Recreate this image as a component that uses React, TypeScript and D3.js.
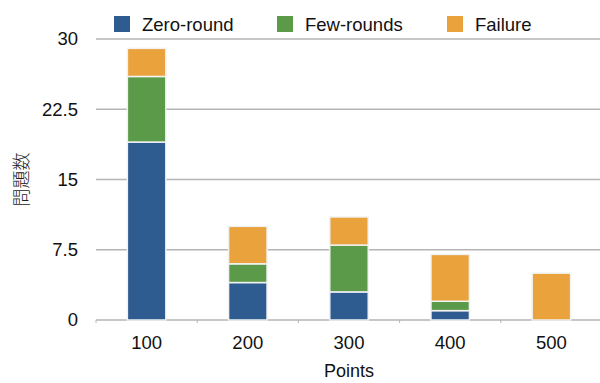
import React from "react";
import * as d3 from "d3";

// Problem counts per point value, stacked by outcome
const categories = ["100", "200", "300", "400", "500"];
const zeroRound = [19, 4, 3, 1, 0];
const fewRounds = [7, 2, 5, 1, 0];
const failure = [3, 4, 3, 5, 5];
const yTicks = [0, 7.5, 15, 22.5, 30];

const seriesNames = ["Zero-round", "Few-rounds", "Failure"];
const seriesColors = ["#2E5B90", "#5B9A48", "#EAA23D"];

const W = 600;
const H = 383;
const margin = { left: 96, right: -2, top: 39, bottom: 63 };
const FONT = "'Liberation Sans', Arial, Helvetica, sans-serif";

export default function App() {
  const rows = categories.map((c, i) => ({
    cat: c,
    "Zero-round": zeroRound[i],
    "Few-rounds": fewRounds[i],
    Failure: failure[i],
  }));
  const stacked = d3.stack<any>().keys(seriesNames)(rows);

  const x = d3
    .scaleBand<string>()
    .domain(categories)
    .range([margin.left, W - margin.right])
    .paddingInner(0.62)
    .paddingOuter(0.31);
  const y = d3
    .scaleLinear()
    .domain([0, 30])
    .range([H - margin.bottom, margin.top]);

  const step = x.step();
  const x0 = margin.left;
  const boundaries = d3.range(categories.length + 1).map((i) => x0 + i * step);

  const legendX = [114, 277, 447];

  return (
    <svg
      width={W}
      height={H}
      style={{ position: "absolute", left: 0, top: 0, background: "#fff" }}
      fontFamily={FONT}
    >
      {/* gridlines */}
      {yTicks.map((t) => (
        <line
          key={t}
          x1={margin.left}
          x2={W}
          y1={y(t)}
          y2={y(t)}
          stroke="#b4b4b4"
          strokeWidth={1.5}
        />
      ))}
      {/* category separator ticks */}
      {boundaries.map((b, i) => (
        <line
          key={i}
          x1={b}
          x2={b}
          y1={y(0)}
          y2={y(0) + 3}
          stroke="#b4b4b4"
          strokeWidth={1}
        />
      ))}
      {/* y tick labels */}
      {yTicks.map((t) => (
        <text
          key={t}
          x={78}
          y={y(t)}
          dy="0.35em"
          textAnchor="end"
          fontSize={18.5}
          fill="#111"
        >
          {t}
        </text>
      ))}
      {/* stacked bars */}
      {stacked.map((s, si) => (
        <g key={s.key}>
          {s.map((d, i) =>
            d[1] - d[0] > 0 ? (
              <rect
                key={i}
                x={x(categories[i])}
                y={y(d[1])}
                width={x.bandwidth()}
                height={y(d[0]) - y(d[1])}
                fill={seriesColors[si]}
                stroke="#f2f2f2"
                strokeWidth={1.5}
              />
            ) : null
          )}
        </g>
      ))}
      {/* x tick labels */}
      {categories.map((c) => (
        <text
          key={c}
          x={(x(c) as number) + x.bandwidth() / 2}
          y={349}
          textAnchor="middle"
          fontSize={18.5}
          fill="#111"
        >
          {c}
        </text>
      ))}
      {/* axis titles */}
      <text x={349} y={377} textAnchor="middle" fontSize={18} fill="#111">
        Points
      </text>
      <text
        transform={`translate(28, ${(margin.top + H - margin.bottom) / 2}) rotate(-90)`}
        textAnchor="middle"
        fontSize={18}
        fill="#222"
        fontFamily="'Noto Sans CJK JP', sans-serif"
        fontWeight={300}
      >
        問題数
      </text>
      {/* legend */}
      {seriesNames.map((n, i) => (
        <g key={n}>
          <rect
            x={legendX[i]}
            y={16}
            width={16}
            height={16}
            fill={seriesColors[i]}
          />
          <text x={legendX[i] + 28} y={31} fontSize={18.5} fill="#111">
            {n}
          </text>
        </g>
      ))}
    </svg>
  );
}
